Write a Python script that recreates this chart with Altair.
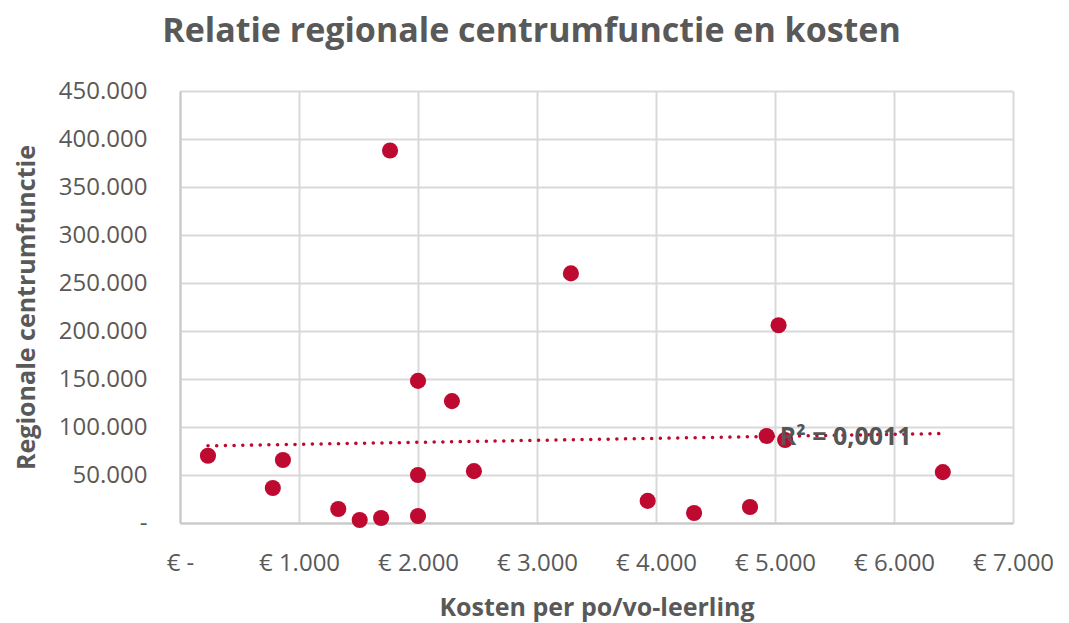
import altair as alt
import pandas as pd

# Data
kosten = [235, 780, 865, 1330, 1510, 1690, 1765, 2000, 2000, 2000,
          2285, 2470, 3285, 3930, 4320, 4790, 4930, 5030, 5085, 6410]
centrumfunctie = [70000, 36500, 65600, 14600, 3100, 5200, 388000, 148000, 50000, 7300,
                  127000, 54000, 260000, 23000, 10400, 16700, 90600, 206000, 86500, 53000]

r2_label = ["R² = 0,0011"]
r2_x = [5040]
r2_y = [90000]

x_ticks = [0, 1000, 2000, 3000, 4000, 5000, 6000, 7000]
y_ticks = [0, 50000, 100000, 150000, 200000, 250000, 300000, 350000, 400000, 450000]

RED = "#BE0A30"
GRAY = "#595959"
GRID = "#D9D9D9"
FONT = "Open Sans"

df = pd.DataFrame({"kosten": kosten, "waarde": centrumfunctie})
lab = pd.DataFrame({"x": r2_x, "y": r2_y, "t": r2_label})

x_enc = alt.X(
    "kosten:Q",
    scale=alt.Scale(domain=[0, 7000], nice=False, zero=True),
    axis=alt.Axis(
        values=x_ticks,
        labelExpr="datum.value == 0 ? '€ -' : '€ ' + replace(format(datum.value, ',.0f'), ',', '.')",
        title="Kosten per po/vo-leerling",
        labelFlush=False, labelOverlap=False,
        labelFontSize=24, titleFontSize=25,
        labelPadding=28, titlePadding=20,
    ),
)
y_enc = alt.Y(
    "waarde:Q",
    scale=alt.Scale(domain=[0, 450000], nice=False),
    axis=alt.Axis(
        values=y_ticks,
        labelExpr="datum.value == 0 ? '-' : replace(format(datum.value, ',.0f'), ',', '.')",
        title="Regionale centrumfunctie",
        labelFlush=False, labelOverlap=False,
        labelFontSize=24, titleFontSize=25,
        labelPadding=33,
        titleX=-154, titleBaseline="middle",
    ),
)

points = alt.Chart(df).mark_circle(size=260, color=RED, opacity=1).encode(x=x_enc, y=y_enc)

trend = (
    alt.Chart(df)
    .transform_regression("kosten", "waarde")
    .mark_line(color=RED, strokeWidth=3.5, strokeDash=[0.1, 8.6], strokeCap="round")
    .encode(x="kosten:Q", y="waarde:Q")
)

label = alt.Chart(lab).mark_text(
    align="left", baseline="middle", font=FONT, fontSize=25, fontWeight="bold", color="#555555"
).encode(x="x:Q", y="y:Q", text="t:N")

chart = (
    alt.layer(points, trend, label)
    .properties(
        width=833,
        height=432,
        title=alt.TitleParams(
            "Relatie regionale centrumfunctie en kosten",
            font=FONT, fontSize=34, fontWeight="bold", color=GRAY,
            anchor="middle", dx=-65, offset=30,
        ),
        autosize=alt.AutoSizeParams(type="none"),
        padding={"left": 172, "top": 83, "right": 40, "bottom": 105},
    )
    .configure_view(stroke=None)
    .configure_axis(
        grid=True, gridColor=GRID, gridWidth=2,
        domain=True, domainColor="#C8C8C8", domainWidth=2,
        ticks=False,
        labelFont=FONT, labelColor=GRAY,
        titleFont=FONT, titleFontWeight="bold", titleColor=GRAY,
    )
)

chart.save("out.html", embed_options={"renderer": "svg", "actions": False})
